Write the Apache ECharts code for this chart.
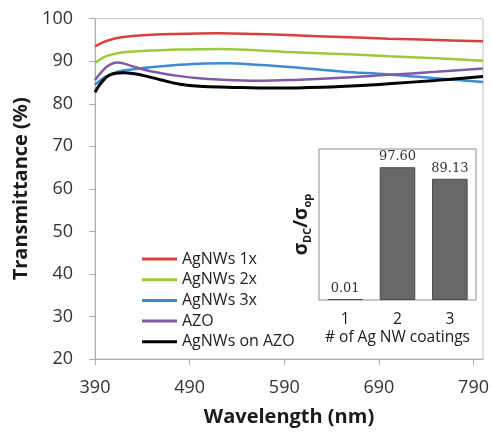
<!DOCTYPE html>
<html>
<head>
<meta charset="utf-8">
<script src="https://cdn.jsdelivr.net/npm/echarts@6/dist/echarts.min.js"></script>
<style>
  html, body { margin: 0; padding: 0; background: #fff; }
  #chart { width: 492px; height: 433px; }
</style>
</head>
<body>
<div id="chart"></div>
<script>
// transmittance spectra, [wavelength nm, %T]
const agnws1x = [[390, 93.5], [400, 94.6], [410, 95.3], [420, 95.7], [440, 96.1], [470, 96.4], [520, 96.6], [560, 96.4], [600, 96.1], [650, 95.7], [700, 95.3], [750, 95.0], [800, 94.7]];
const agnws2x = [[390, 89.6], [400, 91.0], [410, 91.7], [420, 92.1], [440, 92.4], [470, 92.7], [520, 92.9], [560, 92.6], [600, 92.1], [650, 91.7], [700, 91.2], [750, 90.7], [800, 90.1]];
const agnws3x = [[390, 84.5], [400, 86.2], [410, 87.2], [420, 87.8], [440, 88.4], [470, 89.0], [500, 89.4], [530, 89.5], [560, 89.2], [600, 88.6], [650, 87.6], [700, 86.9], [750, 86.0], [800, 85.1]];
const azo = [[390, 85.6], [395, 87.0], [400, 88.2], [405, 89.1], [413, 89.7], [420, 89.5], [430, 88.8], [444, 87.9], [460, 87.2], [480, 86.5], [500, 86.0], [520, 85.7], [560, 85.4], [600, 85.6], [650, 86.1], [700, 86.8], [750, 87.5], [800, 88.3]];
const agnwsOnAzo = [[390, 82.7], [395, 84.5], [400, 85.8], [405, 86.7], [412, 87.2], [420, 87.3], [430, 87.1], [444, 86.5], [460, 85.6], [480, 84.6], [500, 84.1], [530, 83.9], [580, 83.7], [630, 83.9], [680, 84.4], [700, 84.7], [750, 85.5], [800, 86.4]];

const seriesNames = ['AgNWs 1x', 'AgNWs 2x', 'AgNWs 3x', 'AZO', 'AgNWs on AZO'];
const wavelengthTicks = [390, 490, 590, 690, 790];

// inset: sigma_DC / sigma_op vs number of coatings
const coatings = ['1', '2', '3'];
const fom = [0.01, 97.60, 89.13];

const chart = echarts.init(document.getElementById('chart'));

const sans = 'Open Sans';
const colors = ['#d9403b', '#9bcb3c', '#3f8ad6', '#7f5ba6', '#000000'];
const spectra = [agnws1x, agnws2x, agnws3x, azo, agnwsOnAzo];

const lineSeries = spectra.map((d, i) => ({
  name: seriesNames[i],
  type: 'line',
  xAxisIndex: 0,
  yAxisIndex: 0,
  data: d,
  smooth: 0.4,
  showSymbol: false,
  lineStyle: { color: colors[i], width: i === 4 ? 3 : 2.5 },
  itemStyle: { color: colors[i] }
}));

const option = {
  animation: false,
  backgroundColor: '#fff',
  textStyle: { fontFamily: sans },
  grid: [
    { left: 95, top: 18.7, right: 6, bottom: 74, show: true, borderColor: '#c4c4c4', borderWidth: 1 },
    { left: 319, top: 149, right: 16, bottom: 133, show: true, backgroundColor: '#fff', borderColor: '#8c8c8c', borderWidth: 1 }
  ],
  legend: {
    orient: 'vertical',
    left: 137,
    top: 245,
    data: seriesNames,
    icon: 'rect',
    itemWidth: 35,
    itemHeight: 3,
    itemGap: 2.7,
    textStyle: { fontFamily: sans, fontSize: 16, color: '#222', lineHeight: 18 }
  },
  xAxis: [
    {
      type: 'value',
      gridIndex: 0,
      min: 390,
      max: 800,
      name: 'Wavelength (nm)',
      nameLocation: 'middle',
      nameGap: 48,
      nameTextStyle: { fontFamily: sans, fontSize: 20, fontWeight: 'bold', color: '#1a1a1a' },
      splitLine: { show: false },
      axisLine: { show: true, lineStyle: { color: '#b0b0b0' } },
      axisTick: { show: true, length: 6, customValues: wavelengthTicks, lineStyle: { color: '#b0b0b0' } },
      axisLabel: { customValues: wavelengthTicks, margin: 20, fontSize: 18, color: '#333', fontFamily: sans }
    },
    {
      type: 'category',
      gridIndex: 1,
      data: coatings,
      name: '# of Ag NW coatings',
      nameLocation: 'middle',
      nameGap: 30,
      nameTextStyle: { fontFamily: sans, fontSize: 15.5, color: '#1a1a1a' },
      axisLine: { show: false },
      axisTick: { show: false },
      axisLabel: { margin: 12, fontSize: 15.5, color: '#1a1a1a', fontFamily: sans }
    }
  ],
  yAxis: [
    {
      type: 'value',
      gridIndex: 0,
      min: 20,
      max: 100,
      interval: 10,
      name: 'Transmittance (%)',
      nameLocation: 'middle',
      nameGap: 62,
      nameTextStyle: { fontFamily: sans, fontSize: 20, fontWeight: 'bold', color: '#1a1a1a' },
      splitLine: { show: false },
      axisLine: { show: true, lineStyle: { color: '#b0b0b0' } },
      axisTick: { show: true, length: 6, lineStyle: { color: '#b0b0b0' } },
      axisLabel: { margin: 22, fontSize: 18, color: '#333', fontFamily: sans }
    },
    {
      type: 'value',
      gridIndex: 1,
      min: 0,
      max: 111,
      name: '{s|σ}{b|DC}{s|/σ}{b|op}',
      nameLocation: 'middle',
      nameGap: 6,
      nameTextStyle: {
        rich: {
          s: { fontFamily: sans, fontSize: 19, fontWeight: 'bold', color: '#1a1a1a', lineHeight: 22, verticalAlign: 'middle' },
          b: { fontFamily: sans, fontSize: 11, fontWeight: 'bold', color: '#1a1a1a', lineHeight: 12, verticalAlign: 'bottom' }
        }
      },
      splitLine: { show: false },
      axisLine: { show: false },
      axisTick: { show: false },
      axisLabel: { show: false }
    }
  ],
  series: lineSeries.concat([
    {
      type: 'bar',
      xAxisIndex: 1,
      yAxisIndex: 1,
      data: fom,
      barWidth: '68%',
      barMinHeight: 1,
      itemStyle: { color: '#676767', borderColor: '#4a4a4a', borderWidth: 1 },
      label: {
        show: true,
        position: 'top',
        distance: 4,
        fontFamily: 'DejaVu Serif',
        fontSize: 13,
        color: '#333',
        formatter: p => p.value.toFixed(2)
      }
    }
  ])
};

chart.setOption(option);
</script>
</body>
</html>
